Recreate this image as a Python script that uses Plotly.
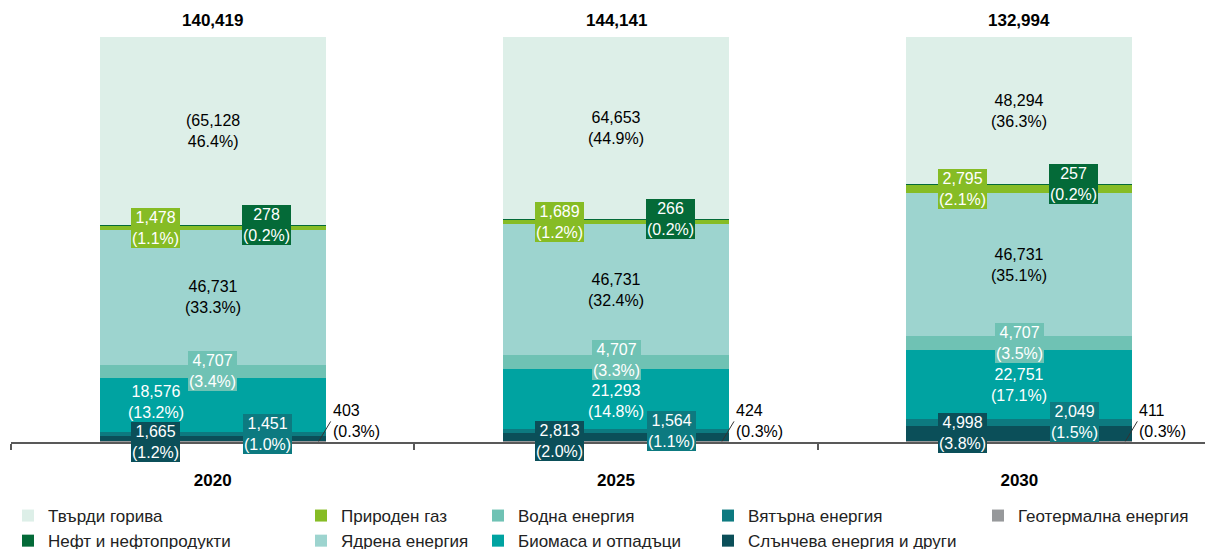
import plotly.graph_objects as go

# Данни (ktoe) по години
years = ["2020", "2025", "2030"]
totals = [140419, 144141, 132994]

# ред на натрупване: отдолу нагоре
sources = [
    "Геотермална енергия",
    "Слънчева енергия и други",
    "Вятърна енергия",
    "Биомаса и отпадъци",
    "Водна енергия",
    "Ядрена енергия",
    "Природен газ",
    "Нефт и нефтопродукти",
    "Твърди горива",
]
geothermal = [403, 424, 411]
solar = [1665, 2813, 4998]
wind = [1451, 1564, 2049]
biomass = [18576, 21293, 22751]
hydro = [4707, 4707, 4707]
nuclear = [46731, 46731, 46731]
gas = [1478, 1689, 2795]
oil = [278, 266, 257]
solid = [65128, 64653, 48294]

values = [geothermal, solar, wind, biomass, hydro, nuclear, gas, oil, solid]
colors = ["#97999B", "#0B4F59", "#0D7A80", "#00A3A1", "#6FC2B4",
          "#9DD4CF", "#86BC25", "#046A38", "#DDEFE8"]

# разположение на легендата: колона, ред
legend_pos = {
    "Твърди горива": (1, 1), "Нефт и нефтопродукти": (1, 2),
    "Природен газ": (2, 1), "Ядрена енергия": (2, 2),
    "Водна енергия": (3, 1), "Биомаса и отпадъци": (3, 2),
    "Вятърна енергия": (4, 1), "Слънчева енергия и други": (4, 2),
    "Геотермална енергия": (5, 1),
}
legend_x = {1: 0, 2: 293, 3: 470, 4: 700, 5: 970}

# стил на етикетите: (режим, отместване по x, цвят на текста, фон)
label_style = {
    "Твърди горива": ("center", 0, "black", None),
    "Нефт и нефтопродукти": ("box", 54, "white", "#046A38"),
    "Природен газ": ("box", -57, "white", "#86BC25"),
    "Ядрена енергия": ("center", 0, "black", None),
    "Водна енергия": ("box", 0, "white", "#6FC2B4"),
    "Биомаса и отпадъци": ("center", 0, "white", None),
    "Вятърна енергия": ("box", 55, "white", "#0D7A80"),
    "Слънчева енергия и други": ("box", -57, "white", "#0B4F59"),
    "Геотермална енергия": ("arrow", 0, "black", None),
}
# ръчни измествания на отделни етикети (px)
label_nudge = {
    ("2020", "Биомаса и отпадъци"): (-57, 3),
    ("2020", "Слънчева енергия и други"): (0, -4),
    ("2025", "Слънчева енергия и други"): (0, -4),
    ("2025", "Биомаса и отпадъци"): (0, -2),
    ("2025", "Водна енергия"): (0, 2),
}

FONT = "Arial, Liberation Sans, sans-serif"

fig = go.Figure()
for name, vals, col in zip(sources, values, colors):
    c, r = legend_pos[name]
    lg = "legend" if c == 1 else f"legend{c}"
    fig.add_trace(go.Bar(
        x=years, y=vals, name=name,
        marker=dict(color=col, line=dict(width=0)),
        legend=lg, legendrank=r,
        hoverinfo="name+y",
    ))

annotations = []
for i, yr in enumerate(years):
    col_vals = [v[i] for v in values]
    s = sum(col_vals)
    cum = 0
    for name, v in zip(sources, col_vals):
        mid = (cum + v / 2) / s * 100
        cum += v
        pct = v / totals[i] * 100
        text = f"{v:,}<br>({pct:.1f}%)"
        if name == "Твърди горива" and yr == "2020":
            text = f"({v:,}<br>{pct:.1f}%)"
        mode, dx, fc, bg = label_style[name]
        if mode == "arrow":
            annotations.append(dict(
                x=i, y=mid, xref="x", yref="y", text=text, xshift=106,
                showarrow=True, arrowhead=0, arrowwidth=1, arrowcolor="#333333",
                ax=12, ay=-20, xanchor="left", align="left",
                font=dict(family=FONT, size=16, color=fc),
            ))
            continue
        ndx, ndy = label_nudge.get((yr, name), (0, 0))
        a = dict(x=i, y=mid, xref="x", yref="y", text=text, showarrow=False,
                 xshift=dx + ndx, yshift=ndy,
                 font=dict(family=FONT, size=16, color=fc))
        if bg:
            a.update(bgcolor=bg, borderpad=1, borderwidth=0)
        annotations.append(a)
    annotations.append(dict(
        x=i, y=100, xref="x", yref="y", text=f"<b>{totals[i]:,}</b>",
        showarrow=False, yshift=17,
        font=dict(family=FONT, size=17, color="black"),
    ))

legend_common = dict(
    orientation="v", xref="container", yref="container",
    yanchor="top", y=1 - 490 / 549, tracegroupgap=0, itemwidth=30,
    traceorder="normal",
    font=dict(family=FONT, size=17, color="#222222"),
    bgcolor="rgba(0,0,0,0)",
)
legends = {}
for c, xpix in legend_x.items():
    key = "legend" if c == 1 else f"legend{c}"
    legends[key] = dict(legend_common, x=xpix / 1213, xanchor="left")

fig.update_layout(
    barmode="stack", barnorm="percent", bargap=0.44,
    width=1213, height=549,
    margin=dict(l=3, r=0, t=29, b=115, autoexpand=False),
    plot_bgcolor="white", paper_bgcolor="white",
    font=dict(family=FONT, size=16, color="black"),
    xaxis=dict(
        type="category",
        range=[-0.5, 2.5], showline=True, linecolor="#595959", linewidth=1.5,
        ticks="outside", tickson="boundaries", ticklen=6, tickcolor="#595959",
        tickwidth=1.5, tickfont=dict(family=FONT, size=17, color="black", weight="bold"),
        ticklabelstandoff=22, showgrid=False, automargin=False,
    ),
    yaxis=dict(range=[0, 100], visible=False, showgrid=False),
    annotations=annotations,
    showlegend=True,
    **legends,
)

fig.write_html("out.html")
